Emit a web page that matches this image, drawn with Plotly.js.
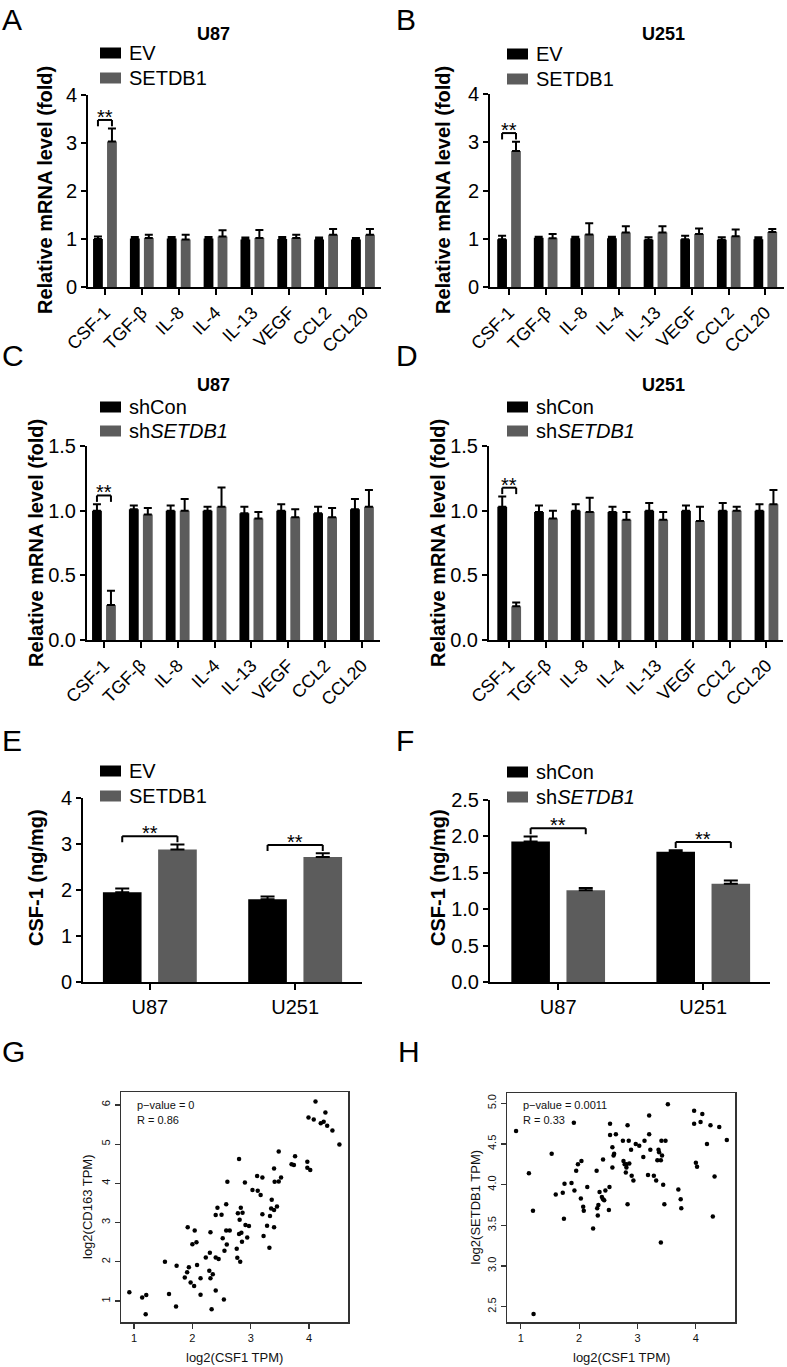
<!DOCTYPE html>
<html>
<head>
<meta charset="utf-8">
<script src="https://cdn.plot.ly/plotly-3.0.1.min.js"></script>
<style>html,body{margin:0;padding:0;background:#fff;}#chart{width:787px;height:1367px;}</style>
</head>
<body>
<div id="chart"></div>
<script>
// ---------------- DATA ----------------
const genes = ['CSF-1','TGF-β','IL-8','IL-4','IL-13','VEGF','CCL2','CCL20'];
const cells = ['U87','U251'];

// A: U87, EV vs SETDB1
const aEV      = [1.00, 1.01, 1.01, 1.01, 0.99, 1.00, 0.99, 0.99];
const aEVerr   = [0.05, 0.03, 0.03, 0.03, 0.04, 0.04, 0.04, 0.03];
const aSET     = [3.03, 1.02, 0.99, 1.05, 1.02, 1.02, 1.09, 1.09];
const aSETerr  = [0.27, 0.07, 0.10, 0.13, 0.17, 0.07, 0.12, 0.12];
// B: U251, EV vs SETDB1
const bEV      = [0.99, 1.02, 1.01, 1.01, 0.98, 0.99, 0.98, 0.99];
const bEVerr   = [0.07, 0.02, 0.03, 0.03, 0.05, 0.07, 0.05, 0.04];
const bSET     = [2.82, 1.01, 1.09, 1.13, 1.13, 1.10, 1.05, 1.14];
const bSETerr  = [0.19, 0.09, 0.23, 0.13, 0.13, 0.11, 0.14, 0.06];
// C: U87, shCon vs shSETDB1
const cCon     = [1.00, 1.01, 1.00, 1.00, 0.98, 1.00, 0.98, 1.01];
const cConErr  = [0.05, 0.03, 0.04, 0.03, 0.05, 0.05, 0.05, 0.08];
const cSh      = [0.27, 0.97, 1.00, 1.03, 0.94, 0.95, 0.95, 1.03];
const cShErr   = [0.11, 0.05, 0.09, 0.15, 0.05, 0.06, 0.07, 0.13];
// D: U251, shCon vs shSETDB1
const dCon     = [1.03, 0.99, 1.00, 0.99, 1.00, 1.00, 1.00, 1.00];
const dConErr  = [0.08, 0.05, 0.05, 0.04, 0.06, 0.04, 0.06, 0.05];
const dSh      = [0.26, 0.94, 0.99, 0.93, 0.93, 0.92, 1.00, 1.05];
const dShErr   = [0.03, 0.06, 0.11, 0.06, 0.06, 0.11, 0.03, 0.11];
// E: CSF-1 protein, EV vs SETDB1
const eEV      = [1.95, 1.80];
const eEVerr   = [0.08, 0.06];
const eSET     = [2.88, 2.72];
const eSETerr  = [0.11, 0.08];
// F: CSF-1 protein, shCon vs shSETDB1
const fCon     = [1.93, 1.79];
const fConErr  = [0.07, 0.02];
const fSh      = [1.26, 1.35];
const fShErr   = [0.03, 0.045];

// G: log2(CSF1 TPM) vs log2(CD163 TPM)
const gX = [0.92,1.14,1.21,1.20,1.53,1.60,1.73,1.72,1.92,2.00,2.04,2.07,1.94,1.91,1.87,1.97,2.03,2.08,2.14,2.14,
            2.23,2.30,2.29,2.31,2.35,2.33,2.40,2.45,2.40,2.31,2.40,2.43,2.50,2.52,2.55,2.58,2.58,2.59,2.54,2.60,
            2.64,2.76,2.77,2.78,2.80,2.81,2.80,2.82,2.84,2.83,2.86,2.85,2.90,2.91,2.94,2.97,3.03,3.11,3.12,3.17,
            3.20,3.20,3.22,3.28,3.32,3.33,3.35,3.36,3.40,3.40,3.40,3.41,3.45,3.48,3.48,3.52,3.70,3.74,3.76,3.97,
            3.97,4.02,3.99,4.08,4.11,4.20,4.25,4.28,4.31,4.40,4.52];
const gY = [1.22,1.09,1.15,0.66,2.00,1.18,1.90,0.86,2.88,2.45,2.80,2.50,1.86,1.73,1.60,1.47,1.38,1.92,1.58,1.16,
            2.11,2.23,1.77,1.58,1.68,0.79,2.11,2.07,1.27,2.75,3.19,3.38,3.20,2.60,2.28,2.80,3.47,2.44,1.04,4.04,
            2.80,2.33,2.10,3.24,2.71,3.07,4.62,2.00,2.74,3.38,3.25,2.51,4.02,2.94,2.62,2.91,3.83,4.19,3.81,3.70,
            4.15,3.21,2.66,2.92,2.36,3.17,3.36,3.58,4.38,2.88,3.32,4.04,3.41,4.05,4.81,4.15,4.49,4.47,4.69,4.55,
            4.40,4.34,5.68,5.63,6.09,5.53,5.57,5.81,5.47,5.35,4.99];
// H: log2(CSF1 TPM) vs log2(SETDB1 TPM)
const hX = [0.92,1.14,1.21,1.22,1.53,1.60,1.72,1.75,1.74,1.91,1.92,1.95,1.98,2.04,1.87,2.03,2.07,2.08,2.14,2.24,
            2.30,2.31,2.32,2.33,2.35,2.39,2.41,2.41,2.43,2.45,2.51,2.52,2.53,2.53,2.57,2.57,2.59,2.60,2.63,2.75,
            2.76,2.78,2.80,2.81,2.81,2.83,2.83,2.85,2.86,2.90,2.89,2.93,2.97,3.03,3.10,3.12,3.18,3.20,3.20,3.22,
            3.28,3.32,3.34,3.36,3.37,3.40,3.41,3.42,3.44,3.46,3.48,3.40,3.52,3.70,3.74,3.75,3.97,3.97,4.00,4.02,
            4.08,4.11,4.19,4.25,4.29,4.32,4.40,4.53];
const hY = [4.66,4.14,3.68,2.41,4.38,3.88,3.90,4.01,3.58,4.76,3.93,4.17,4.25,4.29,4.02,3.83,3.73,3.68,3.97,3.46,
            4.17,3.71,3.62,3.75,3.91,3.85,3.82,4.31,3.81,3.93,3.69,3.97,4.61,4.75,4.46,4.21,4.36,4.38,4.62,4.54,
            4.29,4.25,4.15,4.25,4.21,4.73,3.76,4.54,4.26,4.11,4.43,4.05,4.50,4.48,4.34,4.54,4.12,4.85,4.62,4.43,
            4.11,4.05,4.30,4.43,4.40,4.30,4.54,4.36,4.00,3.76,4.54,3.29,4.99,3.94,3.82,3.71,4.91,4.75,4.27,4.22,
            4.77,4.87,4.50,4.73,3.61,4.10,4.71,4.55];

// ---------------- LAYOUT HELPERS ----------------
const W = 787, H = 1367;
const FONT = 'Arial, "Liberation Sans", Helvetica, sans-serif';
const BLACK = '#000000', GREY = '#5c5c5c';
const BARGAP = 0.24, GROUPGAP = 0.3;
const fx = p => p / W;
const fy = p => 1 - p / H;

const data = [];
const layout = {
  width: W, height: H,
  margin: {l: 0, r: 0, t: 0, b: 0},
  paper_bgcolor: '#ffffff', plot_bgcolor: 'rgba(0,0,0,0)',
  showlegend: false, barmode: 'group', bargap: BARGAP, bargroupgap: GROUPGAP,
  font: {family: FONT, color: '#000'},
  shapes: [], annotations: []
};

function ann(o) { layout.annotations.push(Object.assign({showarrow: false, font: {family: FONT, size: 20, color: '#000'}}, o)); }

function barPanel(n, cats, s1, e1, s2, e2, pos) {
  const xid = n === 1 ? 'x' : 'x' + n, yid = n === 1 ? 'y' : 'y' + n;
  const xk = n === 1 ? 'xaxis' : 'xaxis' + n, yk = n === 1 ? 'yaxis' : 'yaxis' + n;
  const zeros = cats.map(() => 0);
  [[s1, e1, BLACK], [s2, e2, GREY]].forEach(([v, e, c]) => {
    data.push({type: 'bar', x: cats, y: v, xaxis: xid, yaxis: yid, marker: {color: c, line: {width: 0}},
      error_y: {type: 'data', symmetric: false, array: e, arrayminus: zeros, color: '#000', thickness: 2, width: pos.capW},
      hoverinfo: 'skip'});
  });
  layout[xk] = {domain: [fx(pos.l), fx(pos.r)], anchor: yid, type: 'category', range: pos.xr,
    showline: true, linecolor: '#000', linewidth: 2, ticks: 'outside', ticklen: 6, tickwidth: 2, tickcolor: '#000',
    tickangle: pos.xangle, tickfont: {family: FONT, size: pos.xfs, color: '#000'}, showgrid: false, zeroline: false, fixedrange: true};
  layout[yk] = {domain: [fy(pos.b), fy(pos.t)], anchor: xid, range: pos.yr, dtick: pos.dtick, tickformat: pos.fmt,
    showline: true, linecolor: '#000', linewidth: 2, ticks: 'outside', ticklen: 5, tickwidth: 2, tickcolor: '#000',
    tickfont: {family: FONT, size: 20, color: '#000'}, showgrid: false, zeroline: false, fixedrange: true};
  // significance brackets
  const R = pos.yr[1] - pos.yr[0];
  const off = (1 - BARGAP) / 4;
  (pos.sig || []).forEach(i => {
    const top = Math.max(s1[i] + e1[i], s2[i] + e2[i]);
    const yt = top + 0.045 * R, yb = top + 0.012 * R;
    const L = {type: 'line', xref: xid, yref: yid, line: {color: '#000', width: 2}};
    layout.shapes.push(Object.assign({}, L, {x0: i - off, x1: i + off, y0: yt, y1: yt}));
    layout.shapes.push(Object.assign({}, L, {x0: i - off, x1: i - off, y0: yb, y1: yt}));
    layout.shapes.push(Object.assign({}, L, {x0: i + off, x1: i + off, y0: yb, y1: yt}));
    ann({xref: xid, yref: yid, x: i, y: yt, yanchor: 'bottom', xanchor: 'center', yshift: -10, text: '**', font: {family: FONT, size: 20, color: '#000'}});
  });
  // title
  if (pos.title) ann({xref: 'paper', yref: 'paper', x: fx(pos.title[1]), y: fy(pos.title[2]), xanchor: 'center', yanchor: 'middle',
    text: '<b>' + pos.title[0] + '</b>', font: {family: FONT, size: 18, color: '#000'}});
  // y title
  ann({xref: 'paper', yref: 'paper', x: fx(pos.ytx), y: fy(pos.yty), xanchor: 'center', yanchor: 'middle', textangle: -90,
    text: '<b>' + pos.ytitle + '</b>', font: {family: FONT, size: 20, color: '#000'}});
  // legend
  pos.leg.forEach(([label, color, cy]) => {
    layout.shapes.push({type: 'rect', xref: 'paper', yref: 'paper', x0: fx(pos.legX), x1: fx(pos.legX + 21), y0: fy(cy + 5.5), y1: fy(cy - 5.5),
      fillcolor: color, line: {width: 0}});
    ann({xref: 'paper', yref: 'paper', x: fx(pos.legX + 27), y: fy(cy), xanchor: 'left', yanchor: 'middle', text: label,
      font: {family: FONT, size: 20, color: '#000'}});
  });
}

const yT1 = 'Relative mRNA level (fold)';
barPanel(1, genes, aEV, aEVerr, aSET, aSETerr, {l: 88, r: 381, t: 95, b: 287, xr: [-0.46, 7.49], yr: [0, 4], dtick: 1, fmt: 'd',
  xangle: -45, xfs: 18, capW: 4, sig: [0], title: ['U87', 213, 34], ytitle: yT1, ytx: 45, yty: 190,
  legX: 100, leg: [['EV', BLACK, 53], ['SETDB1', GREY, 78]]});
barPanel(2, genes, bEV, bEVerr, bSET, bSETerr, {l: 490, r: 784, t: 94, b: 287, xr: [-0.52, 7.51], yr: [0, 4], dtick: 1, fmt: 'd',
  xangle: -45, xfs: 18, capW: 4, sig: [0], title: ['U251', 663, 34], ytitle: yT1, ytx: 443, yty: 190,
  legX: 507, leg: [['EV', BLACK, 54], ['SETDB1', GREY, 79]]});
barPanel(3, genes, cCon, cConErr, cSh, cShErr, {l: 87, r: 380, t: 446, b: 640, xr: [-0.46, 7.49], yr: [0, 1.5], dtick: 0.5, fmt: '.1f',
  xangle: -45, xfs: 18, capW: 4, sig: [0], title: ['U87', 213, 385], ytitle: yT1, ytx: 36, yty: 543,
  legX: 100, leg: [['shCon', BLACK, 407], ['sh<i>SETDB1</i>', GREY, 431]]});
barPanel(4, genes, dCon, dConErr, dSh, dShErr, {l: 489, r: 783, t: 446, b: 640, xr: [-0.55, 7.45], yr: [0, 1.5], dtick: 0.5, fmt: '.1f',
  xangle: -45, xfs: 18, capW: 4, sig: [0], title: ['U251', 663, 385], ytitle: yT1, ytx: 438, yty: 543,
  legX: 507, leg: [['shCon', BLACK, 407], ['sh<i>SETDB1</i>', GREY, 431]]});
barPanel(5, cells, eEV, eEVerr, eSET, eSETerr, {l: 83, r: 362, t: 798, b: 982, xr: [-0.46, 1.46], yr: [0, 4], dtick: 1, fmt: 'd',
  xangle: 0, xfs: 20, capW: 7, sig: [0, 1], ytitle: 'CSF-1 (ng/mg)', ytx: 36, yty: 878,
  legX: 100, leg: [['EV', BLACK, 771], ['SETDB1', GREY, 796]]});
barPanel(6, cells, fCon, fConErr, fSh, fShErr, {l: 490, r: 770, t: 800, b: 982, xr: [-0.47, 1.46], yr: [0, 2.5], dtick: 0.5, fmt: '.1f',
  xangle: 0, xfs: 20, capW: 7, sig: [0, 1], ytitle: 'CSF-1 (ng/mg)', ytx: 438, yty: 878,
  legX: 507, leg: [['shCon', BLACK, 772], ['sh<i>SETDB1</i>', GREY, 797]]});

// ---------------- SCATTER PANELS ----------------
function scatterPanel(n, xs, ys, pos) {
  const xid = 'x' + n, yid = 'y' + n;
  data.push({type: 'scatter', mode: 'markers', x: xs, y: ys, xaxis: xid, yaxis: yid,
    marker: {color: '#000', size: 4.5}, hoverinfo: 'skip', cliponaxis: false});
  const common = {showline: true, mirror: true, linecolor: '#333', linewidth: 1.5, ticks: 'outside', ticklen: 5,
    tickwidth: 1.2, tickcolor: '#333', tickfont: {family: FONT, size: 11, color: '#111'}, showgrid: false, zeroline: false, fixedrange: true};
  layout['xaxis' + n] = Object.assign({}, common, {domain: [fx(pos.l), fx(pos.r)], anchor: yid, range: pos.xr, tickvals: pos.xt});
  layout['yaxis' + n] = Object.assign({}, common, {domain: [fy(pos.b), fy(pos.t)], anchor: xid, range: pos.yr, tickvals: pos.yt,
    tickformat: pos.yfmt, tickangle: -90});
  ann({xref: 'paper', yref: 'paper', x: fx((pos.l + pos.r) / 2), y: fy(1357), xanchor: 'center', yanchor: 'middle',
    text: 'log2(CSF1 TPM)', font: {family: FONT, size: 13, color: '#111'}});
  ann({xref: 'paper', yref: 'paper', x: fx(pos.ytx), y: fy((pos.t + pos.b) / 2), xanchor: 'center', yanchor: 'middle', textangle: -90,
    text: pos.ytitle, font: {family: FONT, size: 13, color: '#111'}});
  ann({xref: 'paper', yref: 'paper', x: fx(pos.l + 14), y: fy(1105), xanchor: 'left', yanchor: 'middle',
    text: pos.stat[0], font: {family: FONT, size: 11, color: '#111'}});
  ann({xref: 'paper', yref: 'paper', x: fx(pos.l + 14), y: fy(1120), xanchor: 'left', yanchor: 'middle',
    text: pos.stat[1], font: {family: FONT, size: 11, color: '#111'}});
}
scatterPanel(7, gX, gY, {l: 121, r: 348, t: 1092, b: 1322, xr: [0.777, 4.667], yr: [0.464, 6.33], xt: [1, 2, 3, 4], yt: [1, 2, 3, 4, 5, 6],
  yfmt: 'd', ytitle: 'log2(CD163 TPM)', ytx: 87, stat: ['p−value = 0', 'R = 0.86']});
scatterPanel(8, hX, hY, {l: 507, r: 735, t: 1093, b: 1322, xr: [0.765, 4.67], yr: [2.312, 5.127], xt: [1, 2, 3, 4], yt: [2.5, 3, 3.5, 4, 4.5, 5],
  yfmt: '.1f', ytitle: 'log2(SETDB1 TPM)', ytx: 475, stat: ['p−value = 0.0011', 'R = 0.33']});

// ---------------- PANEL LETTERS ----------------
[['A', 0, 19], ['B', 394, 19], ['C', 0, 356], ['D', 394, 356], ['E', 0, 740], ['F', 394, 740], ['G', 0, 1051], ['H', 396, 1051]]
  .forEach(([t, x, y]) => ann({xref: 'paper', yref: 'paper', x: fx(x), y: fy(y), xanchor: 'left', yanchor: 'middle', text: t,
    font: {family: FONT, size: 30, color: '#000'}}));

Plotly.newPlot('chart', data, layout, {displayModeBar: false, staticPlot: true});
</script>
</body>
</html>
